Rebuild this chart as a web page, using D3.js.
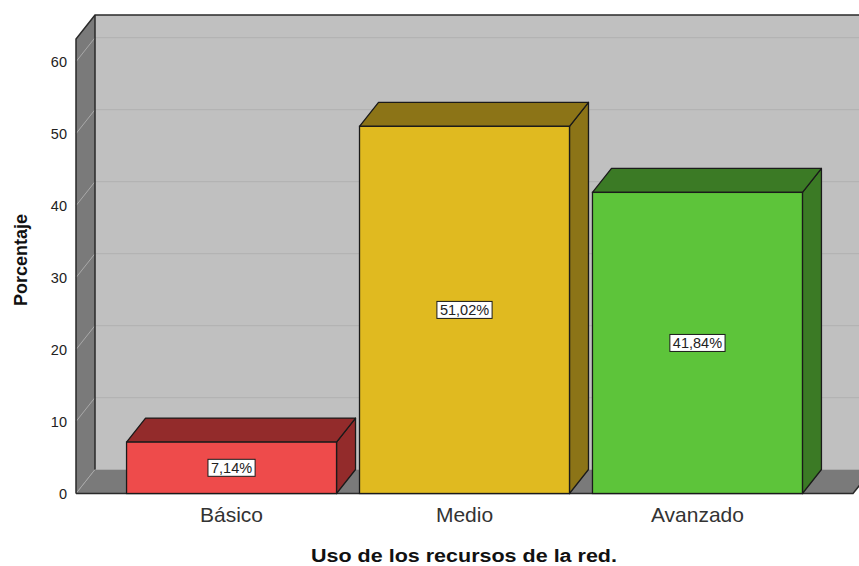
<!DOCTYPE html>
<html>
<head>
<meta charset="utf-8">
<script src="https://cdn.jsdelivr.net/npm/d3@7"></script>
<style>
  html, body { margin: 0; padding: 0; background: #fff; }
  svg { display: block; }
  text { font-family: "Liberation Sans", Arial, sans-serif; }
</style>
</head>
<body>
<svg id="chart" width="859" height="566"></svg>
<script>
// ---- data ----
const categories = ["Básico", "Medio", "Avanzado"];
const values = [7.14, 51.02, 41.84];
const valueLabels = ["7,14%", "51,02%", "41,84%"];
const yTicks = [0, 10, 20, 30, 40, 50, 60];
const yAxisMax = 63.15;
const xTitle = "Uso de los recursos de la red.";
const yTitle = "Porcentaje";

// ---- style ----
const frontColors = ["#ee4b4b", "#e0ba20", "#5dc43a"];
const darkColors  = ["#932b2b", "#8c7417", "#3b7a25"];
const wallColor = "#c0c0c0";
const sideWallColor = "#7a7a7a";

const svg = d3.select("#chart");

// front plane geometry
const fx0 = 76, fx1 = 853;
const DX = 19, DY = -24;

const y = d3.scaleLinear().domain([0, 60]).range([493.5, 61.7]);
const x = d3.scaleBand().domain(categories).range([fx0, fx1])
  .paddingInner(0.0987).paddingOuter(0.217);

const y0 = y(0), yTop = y(yAxisMax);

// back wall
svg.append("rect")
  .attr("x", fx0 + DX).attr("y", yTop + DY)
  .attr("width", (fx1 - fx0)).attr("height", y0 - yTop)
  .attr("fill", wallColor);

// left side wall
svg.append("path")
  .attr("d", `M${fx0},${y0} L${fx0},${yTop} L${fx0 + DX},${yTop + DY} L${fx0 + DX},${y0 + DY} Z`)
  .attr("fill", sideWallColor);

// floor
svg.append("path")
  .attr("d", `M${fx0},${y0} L${fx0 + DX},${y0 + DY} L${fx1 + DX},${y0 + DY} L${fx1},${y0} Z`)
  .attr("fill", sideWallColor);

// gridlines
const gridVals = yTicks.filter(v => v > 0);
svg.append("g").selectAll("line.back").data(gridVals).join("line")
  .attr("x1", fx0 + DX).attr("x2", fx1 + DX)
  .attr("y1", d => y(d) + DY).attr("y2", d => y(d) + DY)
  .attr("stroke", "#b3b3b3").attr("stroke-width", 1.2);
svg.append("g").selectAll("line.side").data(yTicks).join("line")
  .attr("x1", fx0).attr("x2", fx0 + DX)
  .attr("y1", d => y(d)).attr("y2", d => y(d) + DY)
  .attr("stroke", "#a9a9a9").attr("stroke-width", 1);

// wall edges
const edge = "#2a2a2a";
svg.append("path")
  .attr("d", `M${fx0},${y0} L${fx0},${yTop} L${fx0 + DX},${yTop + DY} L${fx1 + DX + 20},${yTop + DY}`)
  .attr("fill", "none").attr("stroke", edge).attr("stroke-width", 1.5);
svg.append("line")
  .attr("x1", fx0 + DX).attr("x2", fx0 + DX)
  .attr("y1", yTop + DY).attr("y2", y0 + DY)
  .attr("stroke", edge).attr("stroke-width", 1.5);
svg.append("path")
  .attr("d", `M${fx0},${y0} L${fx1},${y0} L${fx1 + DX},${y0 + DY}`)
  .attr("fill", "none").attr("stroke", edge).attr("stroke-width", 1.5);

// bars
const bw = x.bandwidth();
const bars = svg.append("g").selectAll("g.bar").data(categories).join("g");
bars.each(function(c, i) {
  const g = d3.select(this);
  const bx = x(c), yt = y(values[i]);
  g.append("path")
    .attr("d", `M${bx + bw},${yt} L${bx + bw + DX},${yt + DY} L${bx + bw + DX},${y0 + DY} L${bx + bw},${y0} Z`)
    .attr("fill", darkColors[i]).attr("stroke", "#1a1a1a").attr("stroke-width", 1.3).attr("stroke-linejoin", "round");
  g.append("path")
    .attr("d", `M${bx},${yt} L${bx + DX},${yt + DY} L${bx + bw + DX},${yt + DY} L${bx + bw},${yt} Z`)
    .attr("fill", darkColors[i]).attr("stroke", "#1a1a1a").attr("stroke-width", 1.3).attr("stroke-linejoin", "round");
  g.append("rect")
    .attr("x", bx).attr("y", yt).attr("width", bw).attr("height", y0 - yt)
    .attr("fill", frontColors[i]).attr("stroke", "#1a1a1a").attr("stroke-width", 1.3);

  // value label box
  const cy = (yt + y0) / 2;
  const lbl = g.append("g");
  const rect = lbl.append("rect");
  const t = lbl.append("text")
    .attr("x", bx + bw / 2).attr("y", cy + 5)
    .attr("text-anchor", "middle")
    .attr("font-size", "14.5px").attr("fill", "#222")
    .text(valueLabels[i]);
  const tw = t.node().getComputedTextLength();
  rect.attr("x", bx + bw / 2 - tw / 2 - 3).attr("y", cy - 8.5)
    .attr("width", tw + 6).attr("height", 17)
    .attr("fill", "#fff").attr("stroke", "#1a1a1a").attr("stroke-width", 1);
});

// y axis tick labels
svg.append("g").selectAll("text").data(yTicks).join("text")
  .attr("x", 67).attr("y", d => y(d) + 5)
  .attr("text-anchor", "end")
  .attr("font-size", "14.5px").attr("fill", "#222")
  .text(d => d);

// category labels
svg.append("g").selectAll("text").data(categories).join("text")
  .attr("x", d => x(d) + bw / 2).attr("y", 522)
  .attr("text-anchor", "middle")
  .attr("font-size", "21px").attr("fill", "#333")
  .text(d => d);

// axis titles
svg.append("text")
  .attr("x", 464).attr("y", 562)
  .attr("text-anchor", "middle")
  .attr("font-size", "18px").attr("font-weight", "bold").attr("fill", "#111")
  .attr("textLength", 306).attr("lengthAdjust", "spacingAndGlyphs")
  .text(xTitle);
svg.append("text")
  .attr("transform", "translate(26.5,260) rotate(-90)")
  .attr("text-anchor", "middle")
  .attr("font-size", "18px").attr("font-weight", "bold").attr("fill", "#111")
  .text(yTitle);
</script>
</body>
</html>
